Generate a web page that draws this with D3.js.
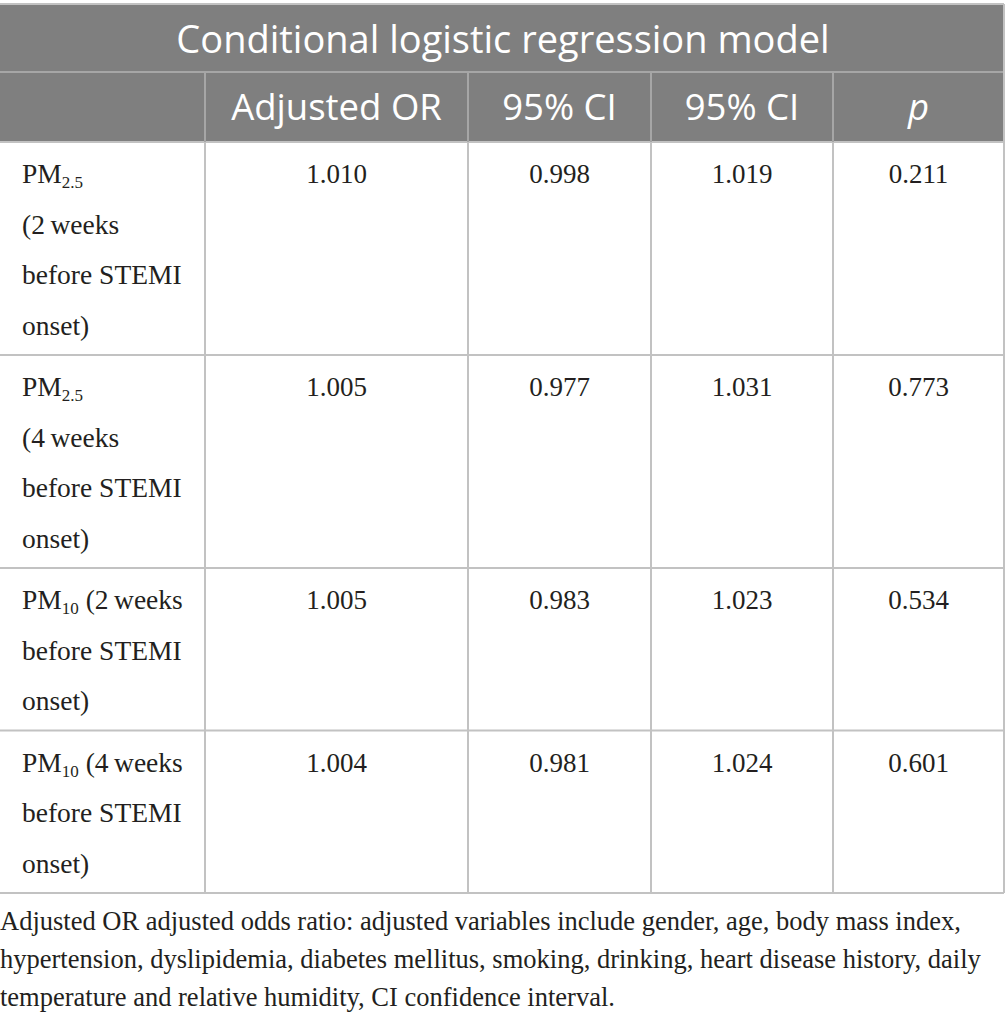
<!DOCTYPE html>
<html>
<head>
<meta charset="utf-8">
<script src="https://cdn.jsdelivr.net/npm/d3@7"></script>
<style>
  body { margin: 0; background: #fff; }
</style>
</head>
<body>
<div id="table"></div>
<script>
// table content
const title = "Conditional logistic regression model";
const headers = ["", "Adjusted OR", "95% CI", "95% CI", "p"];
const pollutants = ["PM", "PM", "PM", "PM"];
const subscripts = ["2.5", "2.5", "10", "10"];
const labelRest = [
  ["", "(2\u2009weeks", "before STEMI", "onset)"],
  ["", "(4\u2009weeks", "before STEMI", "onset)"],
  [" (2\u2009weeks", "before STEMI", "onset)"],
  [" (4\u2009weeks", "before STEMI", "onset)"]
];
const adjustedOR = ["1.010", "1.005", "1.005", "1.004"];
const ciLower = ["0.998", "0.977", "0.983", "0.981"];
const ciUpper = ["1.019", "1.031", "1.023", "1.024"];
const pValues = ["0.211", "0.773", "0.534", "0.601"];
const footnote = [
  "Adjusted OR adjusted odds ratio: adjusted variables include gender, age, body mass index,",
  "hypertension, dyslipidemia, diabetes mellitus, smoking, drinking, heart disease history, daily",
  "temperature and relative humidity, CI confidence interval."
];

let width = 1005, height = 1014;

let svg = d3.select("#table").append("svg")
  .attr("width", width)
  .attr("height", height);

// column edges
let colEdges = [0, 205, 468, 651, 833, 1004];
let tableTop = 4, titleH = 68, headH = 70;
let lineH = 50.5;

let sans = "'Open Sans', Lato, sans-serif";
let serif = "'Liberation Serif', 'DejaVu Serif', serif";
let gridColor = "#c2c2c2";

// row heights from number of text lines
let rowTops = [];
let y = tableTop + titleH + headH;
labelRest.forEach(lines => {
  rowTops.push(y);
  y += 11 + lines.length * lineH;
});
let tableBottom = y;

// header backgrounds
svg.append("rect")
  .attr("x", 0).attr("y", tableTop)
  .attr("width", colEdges[5]).attr("height", titleH + headH)
  .attr("fill", "#7f7f7f");

svg.append("text")
  .attr("x", colEdges[5] / 2 + 1)
  .attr("y", tableTop + 49)
  .attr("text-anchor", "middle")
  .attr("fill", "#fff")
  .style("font-family", sans)
  .style("font-size", "38px")
  .text(title);

headers.forEach((h, i) => {
  svg.append("text")
    .attr("x", (colEdges[i] + colEdges[i + 1]) / 2)
    .attr("y", tableTop + titleH + 48)
    .attr("text-anchor", "middle")
    .attr("fill", "#fff")
    .style("font-family", sans)
    .style("font-size", "36.5px")
    .style("font-style", i == 4 ? "italic" : "normal")
    .text(h);
});

// grid lines
let lines = svg.append("g").attr("stroke", gridColor).attr("stroke-width", 2);
lines.append("line").attr("x1", 0).attr("x2", colEdges[5]).attr("y1", tableTop).attr("y2", tableTop);
lines.append("line").attr("x1", 0).attr("x2", colEdges[5])
  .attr("y1", tableTop + titleH).attr("y2", tableTop + titleH).attr("stroke", "#a6a6a6");
rowTops.concat([tableBottom]).forEach(t => {
  lines.append("line").attr("x1", 0).attr("x2", colEdges[5]).attr("y1", t).attr("y2", t);
});
colEdges.slice(1).forEach((cx, i) => {
  let top = (i == 4) ? tableTop : tableTop + titleH;
  lines.append("line").attr("x1", cx).attr("x2", cx)
    .attr("y1", top).attr("y2", tableBottom)
    .attr("stroke", gridColor);
});
// redraw header part of inner lines lighter on grey
colEdges.slice(1, 5).forEach(cx => {
  lines.append("line").attr("x1", cx).attr("x2", cx)
    .attr("y1", tableTop + titleH).attr("y2", tableTop + titleH + headH)
    .attr("stroke", "#a6a6a6");
});

// body rows
let valueCols = [adjustedOR, ciLower, ciUpper, pValues];
rowTops.forEach((top, r) => {
  let base = top + 41;
  labelRest[r].forEach((line, k) => {
    let t = svg.append("text")
      .attr("x", 22)
      .attr("y", base + k * lineH)
      .attr("fill", "#231f20")
      .style("font-family", serif)
      .style("font-size", "27.5px");
    if (k == 0) {
      t.append("tspan").text(pollutants[r]);
      t.append("tspan").attr("dy", 5).style("font-size", "17px").text(subscripts[r]);
      t.append("tspan").attr("dy", -5).text(line);
    } else {
      t.text(line);
    }
  });
  valueCols.forEach((col, c) => {
    svg.append("text")
      .attr("x", (colEdges[c + 1] + colEdges[c + 2]) / 2)
      .attr("y", base)
      .attr("text-anchor", "middle")
      .attr("fill", "#231f20")
      .style("font-family", serif)
      .style("font-size", "27px")
      .text(col[r]);
  });
});

// footnote
footnote.forEach((f, i) => {
  svg.append("text")
    .attr("x", 0)
    .attr("y", tableBottom + 37 + i * 38)
    .attr("fill", "#231f20")
    .style("font-family", serif)
    .style("font-size", "26.5px")
    .text(f);
});
</script>
</body>
</html>
